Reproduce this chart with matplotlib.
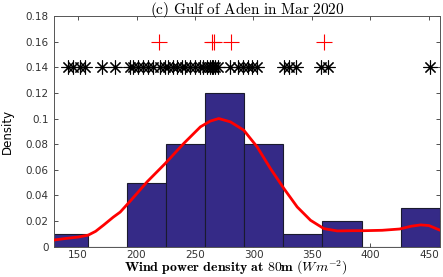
import matplotlib
matplotlib.use('Agg')
import matplotlib.pyplot as plt

plt.rcParams['mathtext.fontset'] = 'cm'

# histogram (bin edges and bar heights)
bin_edges = [125.2, 158.6, 192.0, 225.4, 258.8, 292.2, 325.6, 359.0, 392.4, 425.8, 459.2]
bin_heights = [0.01, 0.0, 0.05, 0.08, 0.12, 0.08, 0.01, 0.02, 0.0, 0.03]

# fitted density curve
curve_x = [129.4, 140, 150, 158.6, 165, 172, 180, 186, 195, 209, 224.6, 240.3, 254.6,
           263, 270.3, 280.3, 291.7, 303.1, 314.5, 326, 337.4, 348.8, 360.2, 371.7,
           385, 395, 410, 425, 435, 443, 450, 459.2]
curve_y = [0.0052, 0.0065, 0.0075, 0.009, 0.012, 0.017, 0.023, 0.027, 0.036, 0.0506,
           0.065, 0.0805, 0.0935, 0.098, 0.100, 0.0974, 0.0909, 0.0779, 0.061, 0.0454,
           0.031, 0.0206, 0.0141, 0.0123, 0.0125, 0.0125, 0.0128, 0.0138, 0.016,
           0.017, 0.0165, 0.013]

# samples (black asterisks) and outliers (red plus)
samples = [141.4, 145.7, 151.7, 156.0, 170.6, 181.7, 194.6, 197.0, 201.4, 205.7, 210.0,
           214.3, 220.3, 224.6, 227.1, 231.4, 234.9, 239.1, 241.7, 246.0, 250.3, 254.6,
           257.1, 260.6, 263.1, 264.5, 265.8, 267.4, 270.0, 280.3, 287.1, 291.4, 295.7,
           299.1, 303.4, 325.7, 330.0, 336.0, 357.4, 363.4, 450.8]
outliers = [218.8, 264.6, 266.0, 281.0, 360.0]
sample_level = 0.14
outlier_level = 0.16

fig = plt.figure(figsize=(4.43, 2.77), dpi=100)
ax = fig.add_axes([0.1219, 0.1094, 0.8713, 0.8328])

widths = [b - a for a, b in zip(bin_edges[:-1], bin_edges[1:])]
ax.bar(bin_edges[:-1], bin_heights, width=widths, align='edge',
       color='#352A87', edgecolor='#1a1a2e', linewidth=0.8, zorder=2)
ax.plot(curve_x, curve_y, color='#ff0000', linewidth=2, zorder=3)
ax.plot(samples, [sample_level] * len(samples), linestyle='none', marker=(8, 2, 0),
        markersize=10, markeredgewidth=0.8, color='black', zorder=3)
ax.plot(outliers, [outlier_level] * len(outliers), linestyle='none', marker='+',
        markersize=11, markeredgewidth=0.8, color='#ff0000', zorder=3)

ax.set_xlim(129.4, 459.5)
ax.set_ylim(0, 0.18)
ax.set_xticks([150, 200, 250, 300, 350, 400, 450])
ax.set_yticks([0, 0.02, 0.04, 0.06, 0.08, 0.1, 0.12, 0.14, 0.16, 0.18])
ax.set_yticklabels(['0', '0.02', '0.04', '0.06', '0.08', '0.1', '0.12', '0.14', '0.16', '0.18'])
ax.tick_params(direction='in', length=3, width=0.6, top=True, right=True,
               labelsize=7.5, colors='#333333', pad=4)
ax.tick_params(axis='x', pad=2.5)
for sp in ax.spines.values():
    sp.set_color('#555555')
    sp.set_linewidth(0.7)

ax.set_title(r'$\mathrm{(c)\ Gulf\ of\ Aden\ in\ Mar\ 2020}$', fontsize=11, pad=1.5)
ax.set_xlabel(r'$\mathbf{Wind\ power\ density\ at\ 80m}\ (Wm^{-2})$', fontsize=10, va='bottom')
ax.xaxis.set_label_coords(0.47, -0.13)
ax.set_ylabel('Density', fontsize=8.5)
ax.yaxis.set_label_coords(-0.105, 0.5)

fig.savefig('out.png', dpi=100)
